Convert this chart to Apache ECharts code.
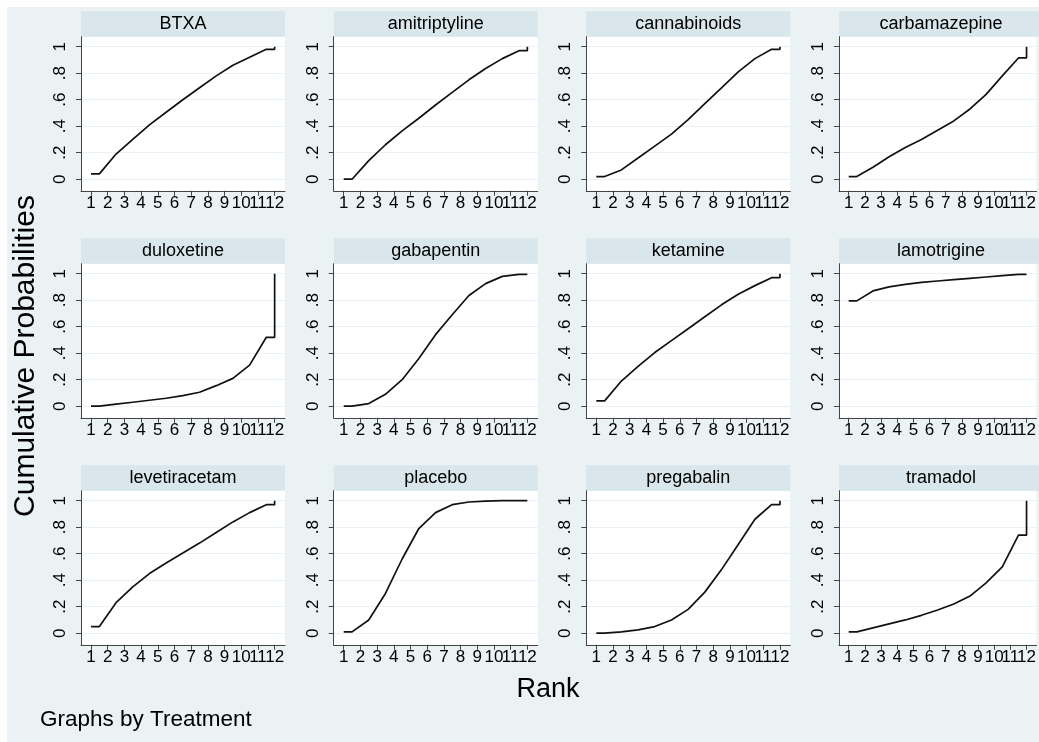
<!DOCTYPE html>
<html>
<head>
<meta charset="utf-8">
<script src="https://cdn.jsdelivr.net/npm/echarts@6/dist/echarts.min.js"></script>
<style>
html,body{margin:0;padding:0;background:#fff;}
#chart{width:1039px;height:742px;}
</style>
</head>
<body>
<div id="chart"></div>
<script>
// ---- Data ----
const treatments = ['BTXA','amitriptyline','cannabinoids','carbamazepine',
                    'duloxetine','gabapentin','ketamine','lamotrigine',
                    'levetiracetam','placebo','pregabalin','tramadol'];
const ranks = [1,2,3,4,5,6,7,8,9,10,11,12];
const yTicks = [0,0.2,0.4,0.6,0.8,1];
// cumulative probability of being ranked at or better than rank k (k = 1..12)
const BTXA          = [0.04,0.19,0.30,0.41,0.505,0.60,0.69,0.78,0.86,0.92,0.98,1];
const amitriptyline = [0.00,0.14,0.26,0.365,0.46,0.56,0.655,0.75,0.835,0.91,0.97,1];
const cannabinoids  = [0.02,0.07,0.16,0.25,0.34,0.45,0.57,0.69,0.81,0.91,0.98,1];
const carbamazepine = [0.02,0.09,0.17,0.24,0.30,0.37,0.44,0.53,0.64,0.78,0.915,1];
const duloxetine    = [0.00,0.015,0.03,0.045,0.06,0.08,0.105,0.155,0.21,0.31,0.52,1];
const gabapentin    = [0.00,0.02,0.09,0.20,0.36,0.54,0.69,0.835,0.925,0.98,0.995,1];
const ketamine      = [0.04,0.19,0.30,0.405,0.495,0.585,0.675,0.765,0.845,0.91,0.97,1];
const lamotrigine   = [0.795,0.87,0.90,0.92,0.935,0.945,0.955,0.965,0.975,0.985,0.995,1];
const levetiracetam = [0.05,0.23,0.35,0.45,0.53,0.605,0.68,0.76,0.84,0.91,0.97,1];
const placebo       = [0.01,0.10,0.30,0.56,0.79,0.91,0.97,0.99,0.997,1,1,1];
const pregabalin    = [0.00,0.01,0.025,0.05,0.10,0.18,0.31,0.48,0.67,0.86,0.97,1];
const tramadol      = [0.01,0.04,0.07,0.10,0.135,0.175,0.22,0.28,0.38,0.50,0.74,1];
const cumData = [BTXA,amitriptyline,cannabinoids,carbamazepine,duloxetine,gabapentin,
                 ketamine,lamotrigine,levetiracetam,placebo,pregabalin,tramadol];

// ---- Layout ----
const FONT = '"Liberation Sans", Arial, sans-serif';
const colLeft = [81, 333.7, 586.3, 839];
const panelW = 204;
const rowY1 = [46.7, 273.7, 500.7];   // pixel of y = 1
const unitY = 132.5;
const padTop = 10, padBottom = 11.6;
const stripH = 25.5;
const XMIN = 0.4, XMAX = 12.62;

// the rank labels are split over two label layers so that touching labels ("10","11","12") are all drawn
const ranksLayerA = ranks.filter(v => !(v === 10 || v === 12));
const ranksLayerB = ranks.filter(v => v === 10 || v === 12);

// build step-like curve points from the cumulative values
function curve(vals){
  const pts = [[ranks[0], vals[0]], [ranks[0] + 0.5, vals[0]]];
  for (let k = 1; k < ranks.length - 1; k++) pts.push([ranks[k] + 0.5, vals[k]]);
  const n = ranks.length;
  pts.push([ranks[n-1], vals[n-2]]);
  pts.push([ranks[n-1], vals[n-1]]);
  return pts;
}

const grids = [], xAxes = [], xAxesB = [], yAxes = [], series = [], graphics = [];
graphics.push({type:'rect', z:-10, shape:{x:7,y:7,width:1040,height:740}, style:{fill:'#EAF2F3'}});

const labelStyle = {margin:4, fontSize:17, color:'#000', fontFamily:FONT,
                    showMinLabel:true, showMaxLabel:true, hideOverlap:false};

treatments.forEach((name, i) => {
  const r = Math.floor(i/4), c = i % 4;
  const left = colLeft[c];
  const top = rowY1[r] - padTop;
  const height = padTop + unitY + padBottom;
  grids.push({left:left, top:top, width:panelW, height:height, show:true,
              backgroundColor:'#ffffff', borderWidth:0});
  xAxes.push({
    type:'value', gridIndex:i, min:XMIN, max:XMAX, position:'bottom',
    axisLine:{show:true, onZero:false, lineStyle:{color:'#444', width:1}},
    axisTick:{show:true, length:5, customValues:ranks, lineStyle:{color:'#444'}},
    axisLabel:Object.assign({customValues:ranksLayerA}, labelStyle),
    splitLine:{show:false}
  });
  xAxesB.push({
    type:'value', gridIndex:i, min:XMIN, max:XMAX, position:'bottom', offset:0,
    axisLine:{show:false, onZero:false},
    axisTick:{show:false},
    axisLabel:Object.assign({customValues:ranksLayerB}, labelStyle),
    splitLine:{show:false}
  });
  yAxes.push({
    type:'value', gridIndex:i, min:-padBottom/unitY, max:1+padTop/unitY,
    axisLine:{show:true, onZero:false, lineStyle:{color:'#444', width:1}},
    axisTick:{show:true, length:5, customValues:yTicks, lineStyle:{color:'#444'}},
    axisLabel:{customValues:yTicks, rotate:90, margin:12, fontSize:17, color:'#000', fontFamily:FONT,
      showMinLabel:true, showMaxLabel:true, hideOverlap:false,
      formatter:v => (v===0?'0':(Math.abs(v-1)<1e-9?'1':String(+v.toFixed(1)).replace('0.','.')))},
    splitLine:{show:true, lineStyle:{color:'#EAF2F3', width:1.2}}
  });
  series.push({
    type:'line', xAxisIndex:i, yAxisIndex:i, data:curve(cumData[i]),
    showSymbol:false, symbol:'none', animation:false,
    lineStyle:{color:'#111', width:1.7}
  });
  graphics.push({type:'rect', shape:{x:left, y:top - stripH, width:panelW, height:stripH},
                 style:{fill:'#D9E6EB'}});
  graphics.push({type:'text', x:left + panelW/2, y:top - stripH/2,
                 style:{text:name, fill:'#000', font:'18px ' + FONT, textAlign:'center', textVerticalAlign:'middle'}});
});

graphics.push({type:'text', x:26, y:356, rotation:Math.PI/2,
  style:{text:'Cumulative Probabilities', fill:'#000', font:'30px ' + FONT, textAlign:'center', textVerticalAlign:'middle'}});
graphics.push({type:'text', x:548, y:690,
  style:{text:'Rank', fill:'#000', font:'27px ' + FONT, textAlign:'center', textVerticalAlign:'middle'}});
graphics.push({type:'text', x:40, y:720,
  style:{text:'Graphs by Treatment', fill:'#000', font:'22.5px ' + FONT, textAlign:'left', textVerticalAlign:'middle'}});

const chart = echarts.init(document.getElementById('chart'), null, {renderer:'canvas'});
chart.setOption({
  backgroundColor:'#ffffff',
  animation:false,
  grid:grids, xAxis:xAxes.concat(xAxesB), yAxis:yAxes, series:series,
  graphic:{elements:graphics}
});
</script>
</body>
</html>
